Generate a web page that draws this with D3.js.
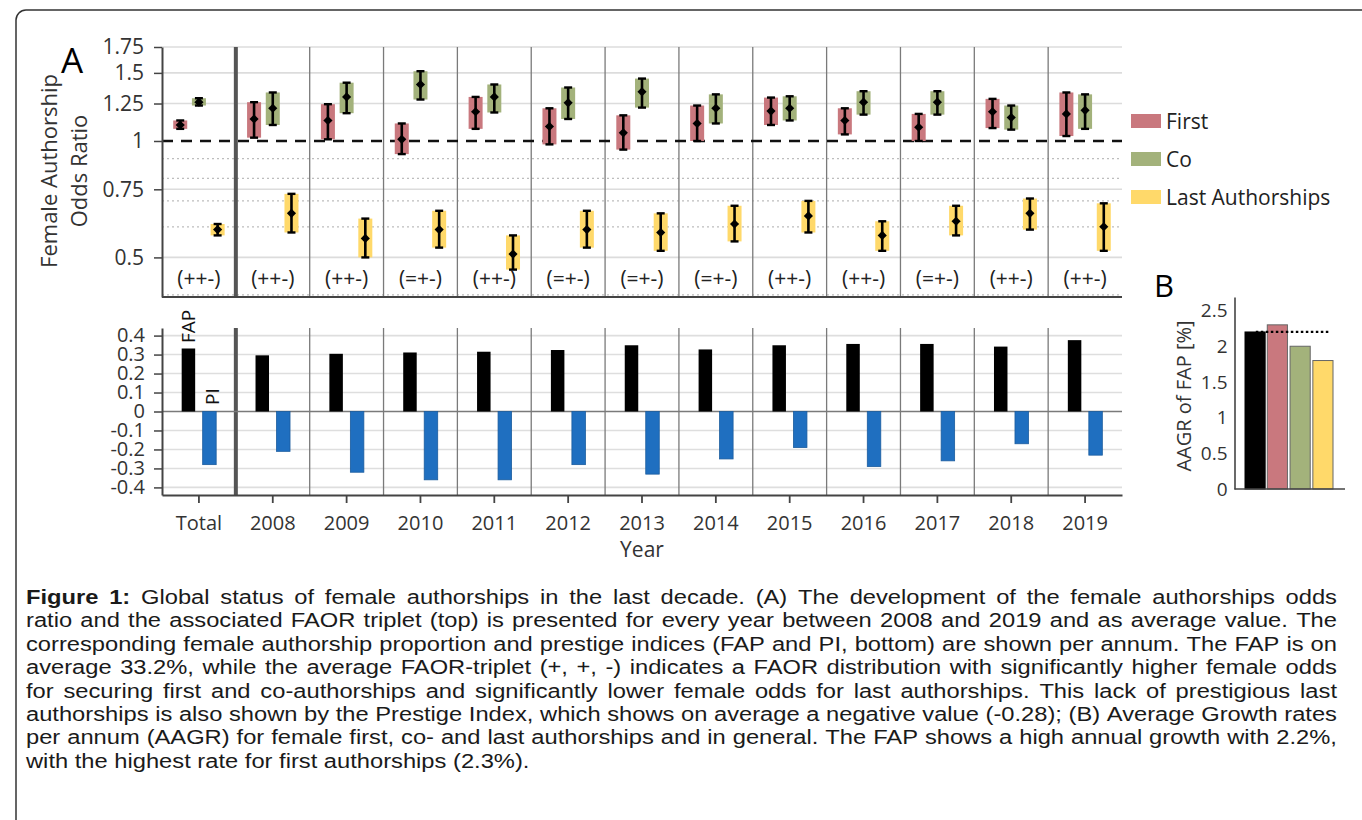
<!DOCTYPE html>
<html>
<head>
<meta charset="utf-8">
<script src="https://cdn.jsdelivr.net/npm/d3@7"></script>
<style>
  html, body { margin: 0; padding: 0; background: #fff; }
  svg { display: block; }
</style>
</head>
<body>
<svg id="fig" width="1362" height="820"></svg>
<script>
// ---- data -------------------------------------------------------------
const categories = ["Total", "2008", "2009", "2010", "2011", "2012", "2013",
                    "2014", "2015", "2016", "2017", "2018", "2019"];

// female authorship odds ratio with confidence range, per authorship position
const firstOR = [1.10, 1.14, 1.13, 1.01, 1.19, 1.09, 1.05, 1.11, 1.195, 1.13, 1.085, 1.19, 1.175];
const firstLo = [1.075, 1.02, 1.01, 0.925, 1.075, 0.98, 0.95, 1.00, 1.10, 1.04, 1.00, 1.08, 1.03];
const firstHi = [1.13, 1.26, 1.245, 1.11, 1.30, 1.215, 1.165, 1.235, 1.295, 1.215, 1.175, 1.285, 1.335];

const coOR = [1.26, 1.215, 1.30, 1.40, 1.30, 1.255, 1.34, 1.215, 1.215, 1.26, 1.26, 1.15, 1.20];
const coLo = [1.235, 1.10, 1.18, 1.28, 1.185, 1.14, 1.22, 1.11, 1.13, 1.17, 1.17, 1.07, 1.075];
const coHi = [1.29, 1.335, 1.415, 1.515, 1.40, 1.375, 1.45, 1.32, 1.305, 1.345, 1.345, 1.235, 1.32];

const lastOR = [0.59, 0.65, 0.56, 0.59, 0.51, 0.59, 0.58, 0.61, 0.64, 0.57, 0.62, 0.65, 0.60];
const lastLo = [0.57, 0.58, 0.50, 0.53, 0.465, 0.53, 0.52, 0.55, 0.58, 0.52, 0.57, 0.59, 0.52];
const lastHi = [0.61, 0.73, 0.63, 0.66, 0.57, 0.66, 0.65, 0.68, 0.70, 0.62, 0.68, 0.71, 0.69];

const triplets = ["(++-)", "(++-)", "(++-)", "(=+-)", "(++-)", "(=+-)", "(=+-)",
                  "(=+-)", "(++-)", "(++-)", "(=+-)", "(++-)", "(++-)"];

// female authorship proportion and prestige index
const fapValues = [0.332, 0.296, 0.304, 0.311, 0.315, 0.324, 0.349, 0.327, 0.349, 0.356, 0.356, 0.342, 0.376];
const piValues  = [-0.28, -0.21, -0.32, -0.36, -0.36, -0.28, -0.33, -0.25, -0.19, -0.29, -0.26, -0.17, -0.23];

// average annual growth rate [%]
const aagrCategories = ["FAP", "First", "Co", "Last Authorships"];
const aagrValues = [2.2, 2.3, 2.0, 1.8];

const seriesNames = ["First", "Co", "Last Authorships"];
const seriesColors = ["#C9787E", "#A3B27B", "#FFD96A"];

const orTicks = [0.5, 0.75, 1, 1.25, 1.5, 1.75];
const orMinorTicks = [0.4, 0.6, 0.7, 0.8, 0.9];
const barTicks = [-0.4, -0.3, -0.2, -0.1, 0, 0.1, 0.2, 0.3, 0.4];
const aagrTicks = [0, 0.5, 1, 1.5, 2, 2.5];

const captionLines = [
  [["Figure 1:", true], ["Global status of female authorships in the last decade. (A) The development of the female authorships odds", false]],
  [["ratio and the associated FAOR triplet (top) is presented for every year between 2008 and 2019 and as average value. The", false]],
  [["corresponding female authorship proportion and prestige indices (FAP and PI, bottom) are shown per annum. The FAP is on", false]],
  [["average 33.2%, while the average FAOR-triplet (+, +, -) indicates a FAOR distribution with significantly higher female odds", false]],
  [["for securing first and co-authorships and significantly lower female odds for last authorships. This lack of prestigious last", false]],
  [["authorships is also shown by the Prestige Index, which shows on average a negative value (-0.28); (B) Average Growth rates", false]],
  [["per annum (AAGR) for female first, co- and last authorships and in general. The FAP shows a high annual growth with 2.2%,", false]],
  [["with the highest rate for first authorships (2.3%).", false]]
];

// ---- setup ------------------------------------------------------------
const svg = d3.select("#fig");
const FONT = "'Open Sans', 'Noto Sans', sans-serif";
const AXIS_COL = "#444";
const TEXT_COL = "#333";

// frame around figure and caption
svg.append("rect")
  .attr("x", 16).attr("y", 10).attr("width", 1400).attr("height", 900)
  .attr("rx", 10).attr("fill", "none").attr("stroke", "#333").attr("stroke-width", 1.5);

const chart = svg.append("g").attr("font-family", FONT);

const x = d3.scaleBand().domain(categories).range([162, 1122]);
const xc = c => x(c) + x.bandwidth() / 2;
const [xL, xR] = x.range();

// year separators
function separators(g, y0, y1) {
  g.selectAll("line.sep").data(categories.slice(1)).join("line")
    .attr("class", "sep")
    .attr("x1", d => x(d)).attr("x2", d => x(d))
    .attr("y1", y0).attr("y2", y1)
    .attr("stroke", (d, i) => i === 0 ? "#555" : "#7a7a7a")
    .attr("stroke-width", (d, i) => i === 0 ? 4 : 1.3);
}

// ---- panel A, top: odds ratios ----------------------------------------
const yOR = d3.scaleLog().domain([0.395, 1.75]).range([297, 47]);
const seriesOffset = d3.scalePoint().domain(seriesNames).range([-18.7, 18.7]);

const orG = chart.append("g");

orG.selectAll("line.major").data(orTicks.filter(t => t !== 1)).join("line")
  .attr("class", "major")
  .attr("x1", xL).attr("x2", xR)
  .attr("y1", d => yOR(d)).attr("y2", d => yOR(d))
  .attr("stroke", "#dcdcdc").attr("stroke-width", 1.6);

orG.selectAll("line.minor").data(orMinorTicks).join("line")
  .attr("class", "minor")
  .attr("x1", xL).attr("x2", xR)
  .attr("y1", d => yOR(d)).attr("y2", d => yOR(d))
  .attr("stroke", "#bdbdbd").attr("stroke-width", 1.2).attr("stroke-dasharray", "2,3");

separators(orG, yOR.range()[1], yOR.range()[0]);

// reference line at odds ratio 1
orG.append("line")
  .attr("x1", xL).attr("x2", xR)
  .attr("y1", yOR(1)).attr("y2", yOR(1))
  .attr("stroke", "#111").attr("stroke-width", 2.6).attr("stroke-dasharray", "11,8");

const orRows = [];
categories.forEach((c, i) => {
  orRows.push({ c, s: "First", v: firstOR[i], lo: firstLo[i], hi: firstHi[i], col: seriesColors[0] });
  orRows.push({ c, s: "Co", v: coOR[i], lo: coLo[i], hi: coHi[i], col: seriesColors[1] });
  orRows.push({ c, s: "Last Authorships", v: lastOR[i], lo: lastLo[i], hi: lastHi[i], col: seriesColors[2] });
});

const boxW = 14, capW = 8;
const mark = orG.selectAll("g.or").data(orRows).join("g")
  .attr("class", "or")
  .attr("transform", d => `translate(${xc(d.c) + seriesOffset(d.s)},0)`);
mark.append("rect")
  .attr("x", -boxW / 2).attr("width", boxW)
  .attr("y", d => yOR(d.hi)).attr("height", d => yOR(d.lo) - yOR(d.hi))
  .attr("fill", d => d.col);
mark.append("line")
  .attr("x1", 0).attr("x2", 0)
  .attr("y1", d => yOR(d.lo)).attr("y2", d => yOR(d.hi))
  .attr("stroke", "#000").attr("stroke-width", 2.6);
["lo", "hi"].forEach(k => {
  mark.append("line")
    .attr("x1", -capW / 2).attr("x2", capW / 2)
    .attr("y1", d => yOR(d[k])).attr("y2", d => yOR(d[k]))
    .attr("stroke", "#000").attr("stroke-width", 2.4);
});
mark.append("path")
  .attr("d", d3.symbol(d3.symbolSquare, 42)())
  .attr("transform", d => `translate(0,${yOR(d.v)}) rotate(45)`)
  .attr("fill", "#000");

orG.selectAll("text.trip").data(categories).join("text")
  .attr("class", "trip")
  .attr("x", d => xc(d)).attr("y", 286)
  .attr("text-anchor", "middle").attr("font-size", 21).attr("fill", "#222")
  .text((d, i) => triplets[i]);

const yAxisTop = orG.append("g").attr("transform", `translate(${xL},0)`)
  .call(d3.axisLeft(yOR).tickValues(orTicks).tickFormat(d => String(d))
        .tickSize(8).tickSizeOuter(0).tickPadding(10));
yAxisTop.select(".domain").attr("stroke", AXIS_COL).attr("stroke-width", 2);
yAxisTop.selectAll(".tick line").attr("stroke", AXIS_COL).attr("stroke-width", 1.5);
yAxisTop.selectAll(".tick text").attr("font-family", FONT).attr("font-size", 21).attr("fill", TEXT_COL);

orG.append("line")
  .attr("x1", xL).attr("x2", xR)
  .attr("y1", yOR.range()[0]).attr("y2", yOR.range()[0])
  .attr("stroke", AXIS_COL).attr("stroke-width", 2);

chart.append("text")
  .attr("transform", "translate(57,171) rotate(-90)")
  .attr("text-anchor", "middle").attr("font-size", 22).attr("fill", TEXT_COL)
  .text("Female Authorship");
chart.append("text")
  .attr("transform", "translate(87,171) rotate(-90)")
  .attr("text-anchor", "middle").attr("font-size", 22).attr("fill", TEXT_COL)
  .text("Odds Ratio");
chart.append("text")
  .attr("x", 61).attr("y", 73).attr("font-size", 35).attr("fill", "#000")
  .text("A");

// legend
const legend = chart.append("g").attr("transform", "translate(1131,114)");
const lg = legend.selectAll("g").data(seriesNames).join("g")
  .attr("transform", (d, i) => `translate(0,${i * 38})`);
lg.append("rect").attr("width", 30).attr("height", 14)
  .attr("fill", (d, i) => seriesColors[i]);
lg.append("text").attr("x", 35).attr("y", 15)
  .attr("font-size", 21).attr("fill", "#222").text(d => d);

// ---- panel A, bottom: FAP and PI --------------------------------------
const yBar = d3.scaleLinear().domain([-0.44, 0.44]).range([495, 328]);
const barOffset = d3.scalePoint().domain(["FAP", "PI"]).range([-10.5, 10.5]);
const barW = 13.5;
const barG = chart.append("g");

barG.selectAll("line.grid").data(barTicks.filter(t => t !== 0)).join("line")
  .attr("class", "grid")
  .attr("x1", xL).attr("x2", xR)
  .attr("y1", d => yBar(d)).attr("y2", d => yBar(d))
  .attr("stroke", "#dedede").attr("stroke-width", 1.6);
separators(barG, yBar.range()[1], yBar.range()[0]);
barG.append("line")
  .attr("x1", xL).attr("x2", xR).attr("y1", yBar(0)).attr("y2", yBar(0))
  .attr("stroke", "#7a7a7a").attr("stroke-width", 1.5);

barG.selectAll("rect.fap").data(categories).join("rect")
  .attr("class", "fap")
  .attr("x", d => xc(d) + barOffset("FAP") - barW / 2).attr("width", barW)
  .attr("y", (d, i) => yBar(fapValues[i]))
  .attr("height", (d, i) => yBar(0) - yBar(fapValues[i]))
  .attr("fill", "#000");
barG.selectAll("rect.pi").data(categories).join("rect")
  .attr("class", "pi")
  .attr("x", d => xc(d) + barOffset("PI") - barW / 2).attr("width", barW)
  .attr("y", yBar(0))
  .attr("height", (d, i) => yBar(piValues[i]) - yBar(0))
  .attr("fill", "#1F6FC0").attr("stroke", "#1B5C9E").attr("stroke-width", 0.8);

const yAxisBar = barG.append("g").attr("transform", `translate(${xL},0)`)
  .call(d3.axisLeft(yBar).tickValues(barTicks)
        .tickFormat(d => d === 0 ? "0" : d.toFixed(1))
        .tickSize(8).tickSizeOuter(0).tickPadding(9));
yAxisBar.select(".domain").attr("stroke", AXIS_COL).attr("stroke-width", 2);
yAxisBar.selectAll(".tick line").attr("stroke", AXIS_COL).attr("stroke-width", 1.5);
yAxisBar.selectAll(".tick text").attr("font-family", FONT).attr("font-size", 20).attr("fill", TEXT_COL);

const xAxis = barG.append("g").attr("transform", `translate(0,${yBar.range()[0]})`)
  .call(d3.axisBottom(x).tickSize(8).tickSizeOuter(0).tickPadding(13));
xAxis.select(".domain").attr("stroke", AXIS_COL).attr("stroke-width", 2);
xAxis.selectAll(".tick line").attr("stroke", AXIS_COL).attr("stroke-width", 1.8);
xAxis.selectAll(".tick text").attr("font-family", FONT).attr("font-size", 20).attr("fill", TEXT_COL);

chart.append("text")
  .attr("transform", `translate(${xc("Total") + barOffset("FAP") + 7},343) rotate(-90)`)
  .attr("font-size", 19).attr("fill", "#111").text("FAP");
chart.append("text")
  .attr("transform", `translate(${xc("Total") + barOffset("PI") + 10},405) rotate(-90)`)
  .attr("font-size", 19).attr("fill", "#111").text("PI");

chart.append("text")
  .attr("x", xc("2013")).attr("y", 557)
  .attr("text-anchor", "middle").attr("font-size", 21).attr("fill", TEXT_COL)
  .text("Year");

// ---- panel B: growth rates --------------------------------------------
const yB = d3.scaleLinear().domain([0, 2.69]).range([489, 297]);
const xB = d3.scaleBand().domain(aagrCategories).range([1239, 1329]).paddingInner(0.05);
const bAxisX = 1234.5;
// overall FAP bar stands apart from the three authorship bars
const bX = d => d === "FAP" ? xB(d) + 6 : xB(d) + 5.5;
const bColors = ["#000", ...seriesColors];

const pB = chart.append("g");
pB.selectAll("rect.aagr").data(aagrCategories).join("rect")
  .attr("class", "aagr")
  .attr("x", d => bX(d)).attr("width", xB.bandwidth() - 1.5)
  .attr("y", (d, i) => yB(aagrValues[i]))
  .attr("height", (d, i) => yB(0) - yB(aagrValues[i]))
  .attr("fill", (d, i) => bColors[i])
  .attr("stroke", (d, i) => i === 0 ? "#000" : "#666").attr("stroke-width", 1);

pB.append("line")
  .attr("x1", bX("FAP") + xB.bandwidth() / 2).attr("x2", bX("Last Authorships") + xB.bandwidth() - 6)
  .attr("y1", yB(aagrValues[0])).attr("y2", yB(aagrValues[0]))
  .attr("stroke", "#000").attr("stroke-width", 2.2).attr("stroke-dasharray", "2.5,2.5");

const yAxisB = pB.append("g").attr("transform", `translate(${bAxisX},0)`)
  .call(d3.axisLeft(yB).tickValues(aagrTicks).tickFormat(d => String(d))
        .tickSize(0).tickPadding(7));
yAxisB.select(".domain").attr("stroke", AXIS_COL).attr("stroke-width", 1.6);
yAxisB.selectAll(".tick text").attr("font-family", FONT).attr("font-size", 19).attr("fill", TEXT_COL);
pB.append("line")
  .attr("x1", bAxisX).attr("x2", 1345).attr("y1", yB(0)).attr("y2", yB(0))
  .attr("stroke", AXIS_COL).attr("stroke-width", 1.6);

pB.append("text")
  .attr("transform", "translate(1191,396) rotate(-90)")
  .attr("text-anchor", "middle").attr("font-size", 20).attr("fill", TEXT_COL)
  .text("AAGR of FAP [%]");
pB.append("text")
  .attr("x", 1154).attr("y", 297).attr("font-size", 31).attr("fill", "#000")
  .text("B");

// ---- caption: justified lines -----------------------------------------
// glyphs are widened so the densest line fills the measure; the other
// lines are justified by spreading the word gaps
const capLeft = 26, capWidth = 1311, capTop = 604, capLead = 23.4;
const capG = svg.append("g")
  .attr("font-family", "'Liberation Sans', Arial, sans-serif")
  .attr("font-size", 20).attr("fill", "#1a1a1a");

const probe = capG.append("text");
const measure = (s, bold) => {
  probe.attr("font-weight", bold ? "bold" : "normal").text(s);
  return probe.node().getComputedTextLength();
};
const spaceW = measure("x x") - measure("xx");

const lineWords = captionLines.map(parts => {
  const words = [];
  parts.forEach(([s, bold]) => s.split(" ").forEach(w => words.push({ w, bold, width: measure(w, bold) })));
  return words;
});
probe.remove();

const naturals = lineWords.map(ws => d3.sum(ws, d => d.width) + (ws.length - 1) * spaceW);
const sx = capWidth / d3.max(naturals);
capG.attr("transform", `translate(${capLeft},0) scale(${sx},1)`);

lineWords.forEach((ws, i) => {
  const isLast = i === lineWords.length - 1;
  const gap = isLast ? spaceW : (capWidth / sx - d3.sum(ws, d => d.width)) / (ws.length - 1);
  let cx = 0;
  const t = capG.append("text").attr("y", capTop + i * capLead);
  ws.forEach(d => {
    t.append("tspan").attr("x", cx).attr("font-weight", d.bold ? "bold" : null).text(d.w);
    cx += d.width + gap;
  });
});
</script>
</body>
</html>
